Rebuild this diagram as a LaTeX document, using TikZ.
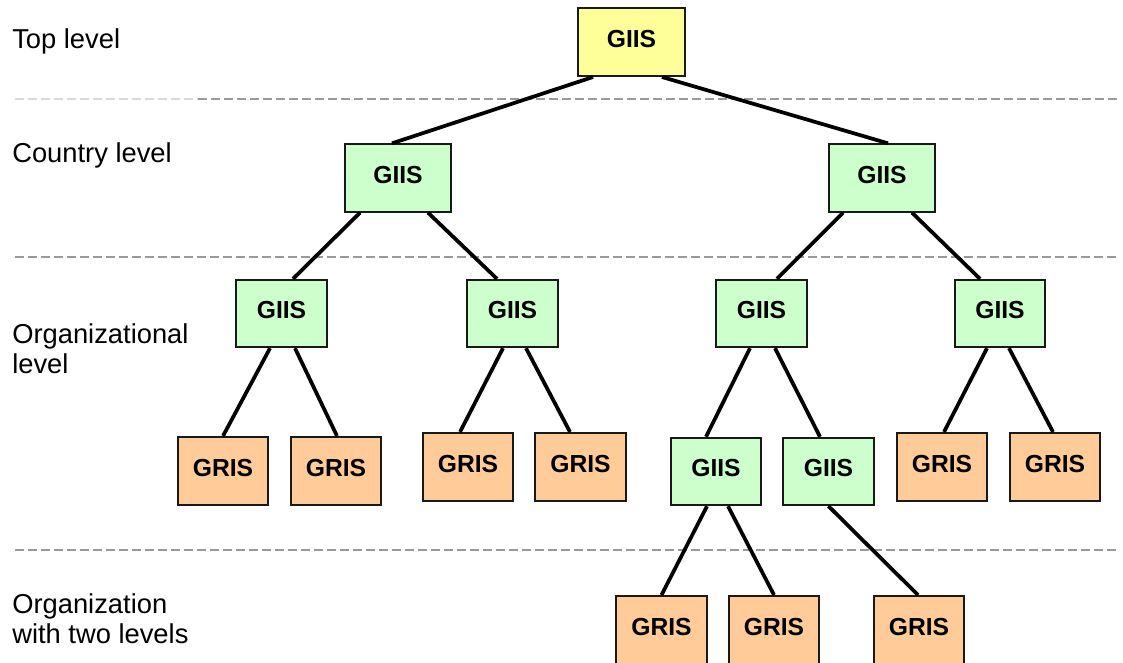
\documentclass[tikz,border=0pt]{standalone}
\usepackage{fontspec}
\setmainfont{Liberation Sans}
\usepackage{tikz}
\usetikzlibrary{calc}
\definecolor{topfill}{HTML}{FFFF99}
\definecolor{giisfill}{HTML}{CCFFCC}
\definecolor{grisfill}{HTML}{FFCC99}
\tikzset{
	%	box/.style={rectangle,draw,minimum size=3em},
	box/.style={rectangle,draw=black!90,line width=1.5pt,inner sep=0pt,
		font=\fontsize{18.5}{20}\selectfont\bfseries,text depth=5pt},
	top/.style={box,fill=topfill,minimum width=80pt,minimum height=51pt},
	giis/.style={box,fill=giisfill,minimum width=68pt,minimum height=50.5pt},
	gris/.style={box,fill=grisfill,minimum width=68pt,minimum height=51pt},
	level/.style={anchor=base west,inner sep=0pt,align=left,
		font=\fontsize{20.5}{22.5}\selectfont},
	sep/.style={gray!80,line width=1.5pt,dash pattern=on 6.75pt off 3pt},
	edge/.style={line width=2.8pt}
}

\begin{document}
\begin{tikzpicture}[x=0.75pt,y=-0.75pt]
	\useasboundingbox (0,0) rectangle (1123,663);
	\clip (0,0) rectangle (1123,663);
	
	% level separators
	\draw[sep,gray!30] (15,99) -- (198,99);
	\draw[sep] (198,99) -- (1120,99);
	\draw[sep] (15,257) -- (1120,257);
	\draw[sep] (15,550) -- (1120,550);
	
	% base of a two-line label is its last line
	\node[level] (ltop) at (12,49) {Top level};
	\node[level] (lcountry) at (12,162) {Country level};
	\node[level] (lorg) at (12,373) {Organizational\\level};
	\node[level] (ltwo) at (12,643) {Organization\\with two levels};
	
	\node[top] (t0) at (631.5,42) {GIIS};
	
	\node[giis,minimum width=79.5pt] (c1) at (398,178) {GIIS};
	\node[giis,minimum width=79.5pt] (c2) at (882,178) {GIIS};
	
	\node[giis] (o1) at (281.5,313.5) {GIIS};
	\node[giis] (o2) at (512.5,313.5) {GIIS};
	\node[giis] (o3) at (761.5,313.5) {GIIS};
	\node[giis] (o4) at (1000,313.5) {GIIS};
	
	\node[gris] (g1) at (223,471) {GRIS};
	\node[gris] (g2) at (336,471) {GRIS};
	\node[gris] (g3) at (468,467) {GRIS};
	\node[gris] (g4) at (580.5,467) {GRIS};
	\node[giis] (i1) at (716,471.5) {GIIS};
	\node[giis] (i2) at (828.5,471.5) {GIIS};
	\node[gris] (g5) at (942,467) {GRIS};
	\node[gris] (g6) at (1055,467) {GRIS};
	
	\node[gris] (b1) at (661.5,630) {GRIS};
	\node[gris] (b2) at (774,630) {GRIS};
	\node[gris] (b3) at (919,630) {GRIS};
	
	\draw[edge] ($(t0.south)+(-38.5,0)$) -- ($(c1.north)+(-6,0)$);
	\draw[edge] ($(t0.south)+(30.5,0)$) -- ($(c2.north)+(6,0)$);
	
	\draw[edge] ($(c1.south)+(-38,0)$) -- ($(o1.north)+(11.5,0)$);
	\draw[edge] ($(c1.south)+(30,0)$) -- ($(o2.north)+(-15.5,0)$);
	\draw[edge] ($(c2.south)+(-39,0)$) -- ($(o3.north)+(15.5,0)$);
	\draw[edge] ($(c2.south)+(30,0)$) -- ($(o4.north)+(-20,0)$);
	
	\draw[edge] ($(o1.south)+(-11.5,0)$) -- (g1.north);
	\draw[edge] ($(o1.south)+(13.5,0)$) -- ($(g2.north)+(1,0)$);
	\draw[edge] ($(o2.south)+(-9.5,0)$) -- ($(g3.north)+(-8,0)$);
	\draw[edge] ($(o2.south)+(13.5,0)$) -- ($(g4.north)+(-10.5,0)$);
	\draw[edge] ($(o3.south)+(-11.5,0)$) -- ($(i1.north)+(-10,0)$);
	\draw[edge] ($(o3.south)+(13.5,0)$) -- ($(i2.north)+(-8.5,0)$);
	\draw[edge] ($(o4.south)+(-13,0)$) -- ($(g5.north)+(2,0)$);
	\draw[edge] ($(o4.south)+(9,0)$) -- ($(g6.north)+(-2,0)$);
	
	\draw[edge] ($(i1.south)+(-9,0)$) -- (b1.north);
	\draw[edge] ($(i1.south)+(12,0)$) -- (b2.north);
	\draw[edge] (i2.south) -- ($(b3.north)+(-1,0)$);
\end{tikzpicture}
\end{document}
